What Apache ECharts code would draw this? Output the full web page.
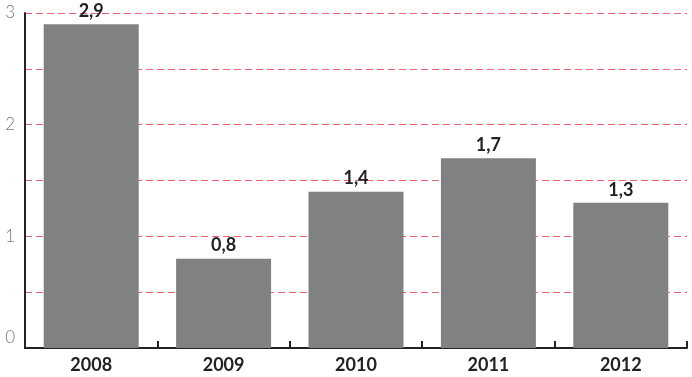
<!DOCTYPE html>
<html>
<head>
<meta charset="utf-8">
<script src="https://cdn.jsdelivr.net/npm/echarts@6/dist/echarts.min.js"></script>
<style>
    html, body { margin: 0; padding: 0; background: #fff; }
    #chart { width: 692px; height: 377px; }
</style>
</head>
<body>
<div id="chart"></div>
<script>
var years = ['2008', '2009', '2010', '2011', '2012'];
var values = [2.9, 0.8, 1.4, 1.7, 1.3];
var yTicks = [0, 0.5, 1, 1.5, 2, 2.5, 3];

var myChart = echarts.init(document.getElementById('chart'));

var option = {
    animation: false,
    grid: { left: 25, right: 5, top: 13, bottom: 29 },
    xAxis: {
        type: 'category',
        data: years,
        axisLine: { lineStyle: { color: '#222', width: 2 } },
        axisTick: { show: true, inside: true, length: 7, lineStyle: { color: '#222', width: 2 } },
        axisLabel: {
            color: '#222', fontSize: 18, fontWeight: 'bold',
            fontFamily: 'Lato', margin: 8
        }
    },
    yAxis: {
        type: 'value',
        min: yTicks[0],
        max: yTicks[yTicks.length - 1],
        interval: 0.5,
        axisLine: { show: true, lineStyle: { color: '#222', width: 2 } },
        axisTick: { show: false },
        axisLabel: {
            color: '#777', fontSize: 17, fontFamily: 'Lato', fontWeight: 300, margin: 10,
            formatter: function (v) {
                if (v % 1 !== 0) return '';
                if (v === 0) return '{z|0}';
                return String(v);
            },
            rich: { z: { color: '#777', fontSize: 17, fontFamily: 'Lato', fontWeight: 300, padding: [0, 0, 20, 0] } }
        },
        splitLine: { lineStyle: { color: '#e8636b', type: [7, 4], width: 1 } }
    },
    series: [{
        type: 'bar',
        data: values,
        barWidth: 95,
        itemStyle: { color: '#808182' },
        label: {
            show: true, position: 'top', distance: 4,
            color: '#222', fontSize: 18, fontWeight: 'bold', fontFamily: 'Lato',
            formatter: function (p) { return p.value.toFixed(1).replace('.', ','); }
        }
    }]
};

myChart.setOption(option);
</script>
</body>
</html>
